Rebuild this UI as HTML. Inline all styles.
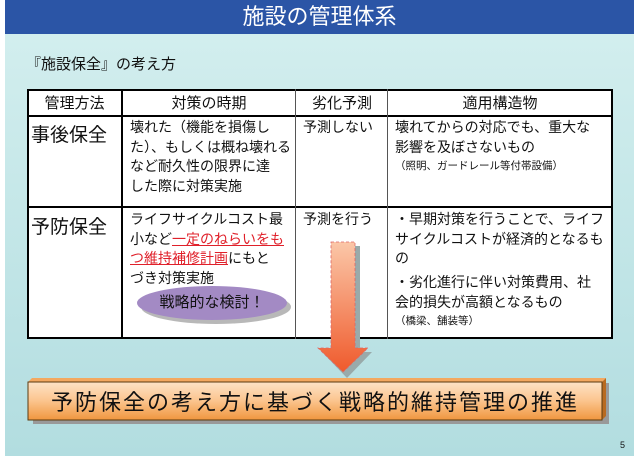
<!DOCTYPE html>
<html><head><meta charset="utf-8"><style>
*{margin:0;padding:0;box-sizing:border-box}
body{width:640px;height:456px;position:relative;background:#fff;overflow:hidden;font-family:"Liberation Sans","Noto Sans CJK JP",sans-serif;color:#111}
.a{position:absolute;white-space:nowrap}
#panel{position:absolute;left:5px;top:34px;width:629px;height:422px;background:linear-gradient(#d2eeee,#b2dde0)}
#title{position:absolute;left:5px;top:0;width:629px;height:34px;background:#2b55a6;color:#fff;font-size:22px;text-align:center;line-height:34px}
.v{position:absolute;background:#000;width:2px}
.h{position:absolute;background:#000;height:2px}
.t{position:absolute;font-size:14px;line-height:19.5px;white-space:nowrap}
</style></head><body>
<div id="panel"></div>
<div id="title">施設の管理体系</div>
<div class="a" style="left:26px;top:53px;font-size:15px">『施設保全』の考え方</div>
<div style="position:absolute;left:27px;top:89px;width:586px;height:250px;background:#fff;border:2px solid #000"></div>
<div class="h" style="left:27px;top:115px;width:586px"></div>
<div class="h" style="left:27px;top:206px;width:586px"></div>
<div class="v" style="left:121px;top:89px;height:250px"></div>
<div class="v" style="left:295px;top:89px;height:250px;width:1px;background:#555"></div>
<div class="v" style="left:387px;top:89px;height:250px;width:1px;background:#555"></div>
<div class="a" style="left:27px;width:95px;top:92px;text-align:center;font-size:15px">管理方法</div>
<div class="a" style="left:122px;width:174px;top:92px;text-align:center;font-size:15px">対策の時期</div>
<div class="a" style="left:296px;width:92px;top:92px;text-align:center;font-size:15px">劣化予測</div>
<div class="a" style="left:388px;width:224px;top:92px;text-align:center;font-size:15px">適用構造物</div>
<div class="a" style="left:31px;top:120px;font-size:19px">事後保全</div>
<div class="a" style="left:31px;top:212px;font-size:19px">予防保全</div>
<div class="t" style="left:130px;top:118px">壊れた（機能を損傷し<br>た）、もしくは概ね壊れる<br>など耐久性の限界に達<br>した際に対策実施</div>
<div class="t" style="left:303px;top:118px">予測しない</div>
<div class="t" style="left:395px;top:118px">壊れてからの対応でも、重大な<br>影響を及ぼさないもの</div>
<div class="a" style="left:395px;top:158px;font-size:10.5px">（照明、ガードレール等付帯設備）</div>
<div class="t" style="left:130px;top:210px">ライフサイクルコスト最<br>小など<span style="color:#e0202a;text-decoration:underline">一定のねらいをも<br>つ維持補修計画</span>にもと<br>づき対策実施</div>
<div class="t" style="left:303px;top:210px">予測を行う</div>
<div class="t" style="left:395px;top:210px">・早期対策を行うことで、ライフ<br>サイクルコストが経済的となるも<br>の</div>
<div class="t" style="left:395px;top:273px">・劣化進行に伴い対策費用、社<br>会的損失が高額となるもの</div>
<div class="a" style="left:395px;top:313px;font-size:10.5px">（橋梁、舗装等）</div>
<div style="position:absolute;left:141px;top:290px;width:150px;height:34px;border-radius:50%;background:#b8b8b8"></div>
<div style="position:absolute;left:137px;top:286px;width:150px;height:34px;border-radius:50%;background:#a38ac4;font-size:15px;text-align:center;line-height:34px">戦略的な検討！</div>
<svg style="position:absolute;left:0;top:0" width="640" height="456">
<defs><linearGradient id="g" x1="0" y1="0" x2="0" y2="1"><stop offset="0" stop-color="#fbc7a8"/><stop offset="1" stop-color="#ef5a2c"/></linearGradient>
<linearGradient id="b" x1="0" y1="0" x2="0" y2="1"><stop offset="0" stop-color="#fde3c6"/><stop offset="0.5" stop-color="#fbc48d"/><stop offset="1" stop-color="#f0963f"/></linearGradient></defs>
<polygon points="337,246 360,246 360,352 372,352 347,378 322,352 337,352" fill="#9aa"/>
<polygon points="331,242 355,242 355,348 368,348 343,372 318,348 331,348" fill="url(#g)" stroke="#d66" stroke-dasharray="3,2" stroke-width="0.8"/>
<rect x="33" y="383" width="576" height="41" fill="#999"/>
<polygon points="28,382 32,378 606,378 602,382" fill="#f3a860"/>
<polygon points="602,382 606,378 606,416 602,420" fill="#b86a20"/>
<rect x="28" y="382" width="574" height="38" fill="url(#b)" stroke="#5a3a10" stroke-width="1"/>
</svg>
<div class="a" style="left:28px;width:574px;top:385px;text-align:center;font-size:22px;letter-spacing:2px">予防保全の考え方に基づく戦略的維持管理の推進</div>
<div class="a" style="left:620px;top:440px;font-size:9px">5</div>
</body></html>
